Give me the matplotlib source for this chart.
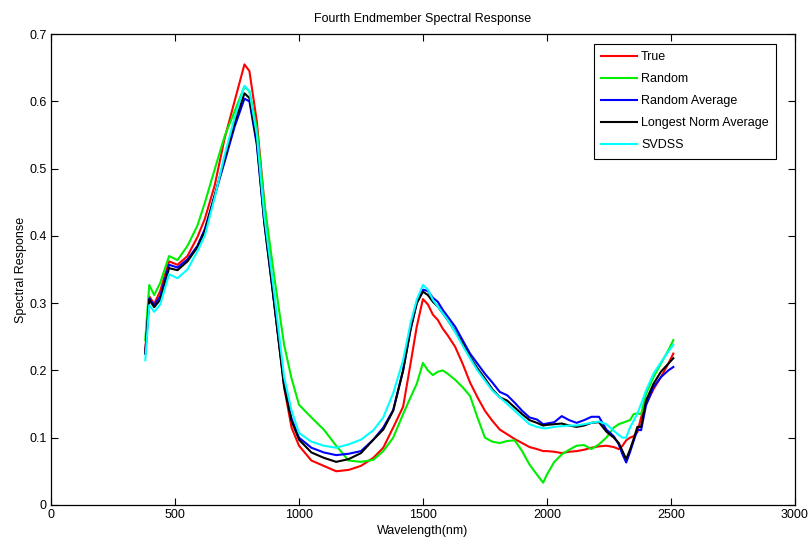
import matplotlib
matplotlib.use("Agg")
import matplotlib.pyplot as plt

plt.rcParams['font.family'] = ['Liberation Sans Narrow', 'Liberation Sans', 'DejaVu Sans']

# wavelength grid (nm)
wavelength = [380, 396, 416, 440, 476, 510, 550, 590, 620, 660, 700, 740, 780, 800, 830, 860,
              900, 940, 970, 1000, 1050, 1100, 1150, 1200, 1250, 1300, 1340, 1380, 1420, 1450,
              1475, 1500, 1520, 1540, 1560, 1580, 1600, 1630, 1660, 1690, 1720, 1750, 1780,
              1810, 1840, 1870, 1900, 1930, 1960, 1985, 2000, 2030, 2060, 2090, 2120, 2150,
              2180, 2210, 2240, 2270, 2290, 2305, 2320, 2335, 2350, 2365, 2380, 2400, 2430,
              2460, 2490, 2510]

true_resp = [0.23, 0.31, 0.299, 0.318, 0.362, 0.357, 0.37, 0.398, 0.425, 0.475, 0.545, 0.60,
             0.655, 0.645, 0.57, 0.45, 0.30, 0.175, 0.115, 0.088, 0.066, 0.058, 0.05, 0.052,
             0.058, 0.07, 0.085, 0.115, 0.146, 0.21, 0.265, 0.306, 0.298, 0.283, 0.275, 0.262,
             0.252, 0.235, 0.21, 0.182, 0.16, 0.14, 0.125, 0.112, 0.105, 0.098, 0.092, 0.086,
             0.083, 0.08, 0.08, 0.079, 0.077, 0.079, 0.08, 0.082, 0.085, 0.087, 0.088, 0.086,
             0.083, 0.088, 0.096, 0.1, 0.102, 0.108, 0.13, 0.15, 0.172, 0.19, 0.21, 0.225]

random_resp = [0.245, 0.327, 0.312, 0.33, 0.37, 0.364, 0.385, 0.415, 0.449, 0.499, 0.548, 0.585,
               0.622, 0.615, 0.56, 0.45, 0.34, 0.238, 0.188, 0.149, 0.13, 0.112, 0.088, 0.066,
               0.064, 0.067, 0.08, 0.1, 0.135, 0.16, 0.18, 0.211, 0.2, 0.193, 0.198, 0.2,
               0.195, 0.186, 0.175, 0.162, 0.13, 0.1, 0.094, 0.092, 0.095, 0.096, 0.08, 0.06,
               0.045, 0.033, 0.045, 0.064, 0.075, 0.082, 0.088, 0.089, 0.083, 0.09, 0.1, 0.115,
               0.12, 0.122, 0.124, 0.126, 0.135, 0.136, 0.135, 0.165, 0.19, 0.21, 0.23, 0.245]

random_avg = [0.225, 0.307, 0.297, 0.31, 0.357, 0.353, 0.365, 0.385, 0.41, 0.46, 0.51, 0.562,
              0.604, 0.6, 0.535, 0.42, 0.3, 0.18, 0.128, 0.1, 0.085, 0.078, 0.074, 0.076,
              0.08, 0.097, 0.115, 0.141, 0.2, 0.26, 0.3, 0.32, 0.318, 0.308, 0.302, 0.29,
              0.28, 0.265, 0.245, 0.225, 0.21, 0.195, 0.182, 0.168, 0.163, 0.152, 0.14, 0.13,
              0.127, 0.12, 0.121, 0.123, 0.132, 0.126, 0.122, 0.126, 0.131, 0.131, 0.112, 0.102,
              0.09, 0.075, 0.063, 0.078, 0.095, 0.112, 0.111, 0.148, 0.175, 0.19, 0.2, 0.205]

longest_norm = [0.225, 0.305, 0.294, 0.305, 0.352, 0.349, 0.362, 0.383, 0.407, 0.46, 0.515, 0.568,
                0.612, 0.605, 0.54, 0.42, 0.3, 0.176, 0.125, 0.097, 0.078, 0.07, 0.064, 0.068,
                0.077, 0.097, 0.112, 0.14, 0.2, 0.262, 0.3, 0.317, 0.312, 0.302, 0.295, 0.285,
                0.275, 0.258, 0.24, 0.22, 0.203, 0.188, 0.172, 0.16, 0.155, 0.145, 0.135, 0.126,
                0.122, 0.118, 0.119, 0.12, 0.121, 0.118, 0.116, 0.118, 0.122, 0.123, 0.109, 0.1,
                0.092, 0.08, 0.068, 0.082, 0.098, 0.116, 0.116, 0.155, 0.18, 0.198, 0.21, 0.218]

svdss = [0.215, 0.297, 0.287, 0.298, 0.343, 0.337, 0.35, 0.377, 0.40, 0.457, 0.52, 0.575,
         0.623, 0.615, 0.55, 0.43, 0.315, 0.19, 0.14, 0.107, 0.094, 0.088, 0.085, 0.09,
         0.097, 0.111, 0.13, 0.166, 0.215, 0.27, 0.305, 0.327, 0.32, 0.305, 0.295, 0.285,
         0.275, 0.257, 0.237, 0.218, 0.2, 0.185, 0.17, 0.16, 0.15, 0.14, 0.13, 0.12,
         0.116, 0.114, 0.114, 0.116, 0.117, 0.118, 0.118, 0.12, 0.122, 0.124, 0.12, 0.11,
         0.104, 0.1, 0.1, 0.115, 0.125, 0.136, 0.15, 0.17, 0.195, 0.212, 0.228, 0.238]

labels = ["True", "Random", "Random Average", "Longest Norm Average", "SVDSS"]
colors = ["#ff0000", "#00ee00", "#0000ff", "#000000", "#00ffff"]
series = [true_resp, random_resp, random_avg, longest_norm, svdss]

fig = plt.figure(figsize=(8.11, 5.5), dpi=100)
ax = fig.add_axes([0.063, 0.082, 0.917, 0.856])

for vals, lab, col in zip(series, labels, colors):
    ax.plot(wavelength, vals, color=col, lw=1.5, label=lab)

ax.set_xlim(0, 3000)
ax.set_ylim(0, 0.7)
ax.set_xticks(range(0, 3001, 500))
ax.set_yticks([0, 0.1, 0.2, 0.3, 0.4, 0.5, 0.6, 0.7])
ax.set_yticklabels(["0", "0.1", "0.2", "0.3", "0.4", "0.5", "0.6", "0.7"])
ax.tick_params(direction='in', top=True, right=True, length=5, labelsize=9, pad=3)
for s in ax.spines.values():
    s.set_linewidth(0.9)

ax.set_title("Fourth Endmember Spectral Response", fontsize=9, pad=9)
ax.set_xlabel("Wavelength(nm)", fontsize=9, labelpad=3)
ax.set_ylabel("Spectral Response", fontsize=9, labelpad=2)

leg = ax.legend(loc='upper right', bbox_to_anchor=(0.975, 0.98), fontsize=9,
                fancybox=False, edgecolor='black', framealpha=1, handlelength=2.9,
                labelspacing=0.8, borderaxespad=0, borderpad=0.6, handletextpad=0.3)
leg.get_frame().set_linewidth(0.8)

fig.savefig("out.png", dpi=100)
